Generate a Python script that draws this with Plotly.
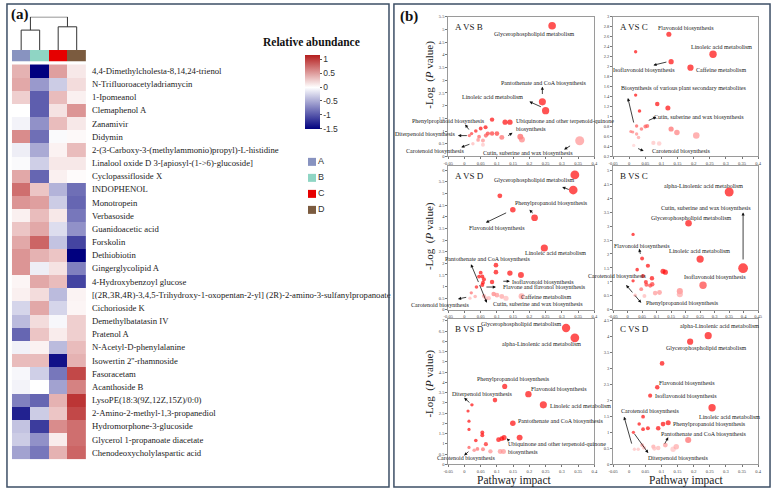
import plotly.graph_objects as go

W, H = 777, 493
SERIF = "Liberation Serif"
SANS = "Liberation Sans"

# ---------------- Panel (a) data ----------------
metabolites = [
    "4,4-Dimethylcholesta-8,14,24-trienol", "N-Trifluoroacetyladriamycin", "1-Ipomeanol",
    "Clemaphenol A", "Zanamivir", "Didymin",
    "2-(3-Carboxy-3-(methylammonio)propyl)-L-histidine",
    "Linalool oxide D 3-[apiosyl-(1->6)-glucoside]", "Cyclopassifloside X", "INDOPHENOL",
    "Monotropein", "Verbasoside", "Guanidoacetic acid", "Forskolin", "Dethiobiotin",
    "Gingerglycolipid A", "4-Hydroxybenzoyl glucose",
    "[(2R,3R,4R)-3,4,5-Trihydroxy-1-oxopentan-2-yl] (2R)-2-amino-3-sulfanylpropanoate",
    "Cichorioside K", "Demethylbatatasin IV", "Pratenol A", "N-Acetyl-D-phenylalanine",
    "Isowertin 2''-rhamnoside", "Fasoracetam", "Acanthoside B", "LysoPE(18:3(9Z,12Z,15Z)/0:0)",
    "2-Amino-2-methyl-1,3-propanediol", "Hydromorphone-3-glucoside",
    "Glycerol 1-propanoate diacetate", "Chenodeoxycholylaspartic acid",
]
grp_A = [0.4, 0.45, 0.25, 0.0, -0.07, 0.6, -0.1, -0.03, 0.45, 0.75, 0.55, 0.08, 0.3, 0.45, 0.55,
         0.55, 0.05, 0.08, -0.25, -0.4, -0.9, -0.08, 0.35, -0.05, -0.07, -0.75, -1.3, -0.35, -0.3, -0.55]
grp_B = [-1.5, -0.6, -0.95, -0.95, -0.65, -0.85, -0.5, -0.28, -0.9, 0.3, 0.5, 0.35, 0.45, 0.8, 0.4,
         -0.1, 0.45, 0.18, 0.45, 0.18, 0.3, 0.07, 0.35, -0.28, 0.0, -0.9, -0.3, -1.15, -0.65, -0.8]
grp_C = [0.5, -0.3, 0.35, 0.15, 0.35, -0.03, 0.07, 0.12, 0.08, -0.45, -0.3, 0.12, -0.2, -0.35, 0.3,
         0.15, 0.35, -0.4, -0.25, -0.05, 0.1, -0.4, -1.4, -0.8, -0.55, 0.4, 0.3, 0.6, 0.1, 0.4]
grp_D = [0.12, 0.18, 0.08, 0.55, 0.12, 0.03, 0.35, 0.12, 0.02, -0.85, -0.9, -0.8, -0.65, -1.1, -1.5,
         -0.75, -1.1, 0.06, 0.05, 0.25, 0.25, 0.35, 0.4, 0.95, 0.65, 1.05, 0.95, 0.75, 0.75, 0.8]
groups = ["A", "B", "C", "D"]
group_colors = ["#8893c0", "#8fd5c4", "#e60000", "#7b5b3f"]
# dendrogram merges: (left, right, height)
dendro_merges = [("A", "B", 0.6), ("C", "D", 0.7), ("AB", "CD", 1.0)]
cbar_ticks = [1, 0.5, 0, -0.5, -1, -1.5]

# ---------------- Panel (b) data ----------------
AB_x = [0.27, 0.24, 0.25, 0.085, 0.125, 0.14, 0.065, 0.05, 0.035, 0.022, 0.015, 0.045, 0.072, 0.085,
        0.1, 0.066, 0.115, 0.172, 0.177, 0.057, 0.042, 0.026, 0.057, 0.355]
AB_y = [5.15, 2.15, 1.8, 1.45, 1.35, 1.35, 1.15, 1.1, 1.0, 0.9, 0.82, 0.78, 0.9, 0.9,
        0.9, 0.82, 0.75, 0.78, 0.67, 0.63, 0.65, 0.5, 0.46, 0.62]
AC_x = [0.123, 0.26, 0.02, 0.13, 0.19, 0.02, 0.087, 0.12, 0.032, 0.023, 0.005, 0.011, 0.023, 0.029,
        0.038, 0.05, 0.056, 0.13, 0.148, 0.208, 0.075, 0.093, 0.014]
AC_y = [2.65, 2.25, 2.3, 2.1, 1.98, 1.43, 1.25, 1.17, 1.11, 0.81, 0.7, 0.69, 0.65, 0.58,
        0.75, 0.8, 0.81, 0.75, 0.68, 0.62, 0.47, 0.46, 0.42]
AD_x = [0.34, 0.335, 0.109, 0.149, 0.216, 0.246, 0.097, 0.097, 0.14, 0.174, 0.05, 0.055, 0.06, 0.045,
        0.057, 0.085, 0.055, 0.037, 0.021, 0.033, 0.06, 0.09, 0.1, 0.066, 0.075, 0.115, 0.128, 0.176, 0.017]
AD_y = [5.8, 5.15, 4.9, 4.3, 3.96, 2.66, 1.92, 1.62, 1.58, 1.5, 1.6, 1.43, 1.31, 1.43,
        1.17, 1.2, 1.07, 0.98, 0.73, 0.57, 0.6, 0.68, 0.63, 0.5, 0.5, 0.57, 0.5, 0.58, 0.5]
BC_x = [0.35, 0.398, 0.21, 0.019, 0.05, 0.25, 0.07, 0.033, 0.122, 0.13, 0.053, 0.084, 0.019, 0.063,
        0.085, 0.065, 0.078, 0.047, 0.26, 0.095, 0.11, 0.18, 0.18, 0.026, 0.058]
BC_y = [4.22, 1.49, 3.1, 2.7, 1.84, 1.82, 1.58, 1.44, 1.38, 1.35, 1.21, 1.13, 1.04, 1.0,
        0.92, 0.9, 0.87, 0.74, 0.88, 0.6, 0.62, 0.67, 0.56, 0.52, 0.5]
BD_x = [0.313, 0.34, 0.124, 0.094, 0.197, 0.243, 0.023, 0.011, 0.014, 0.014, 0.149, 0.055, 0.055,
        0.035, 0.066, 0.105, 0.115, 0.122, 0.17, 0.014, 0.03, 0.04, 0.057, 0.08, 0.11, 0.12]
BD_y = [6.65, 6.17, 3.8, 3.13, 3.42, 2.9, 2.9, 2.6, 2.1, 1.7, 2.0, 1.55, 1.42,
        1.16, 0.98, 1.2, 1.25, 1.3, 1.3, 0.82, 0.68, 0.75, 0.73, 0.63, 0.62, 0.62]
CD_x = [0.245, 0.189, 0.102, 0.087, 0.065, 0.257, 0.043, 0.031, 0.013, 0.043, 0.058, 0.09, 0.105,
        0.121, 0.183, 0.04, 0.046, 0.075, 0.078, 0.09, 0.112, 0.136, 0.146, 0.016, 0.028]
CD_y = [4.03, 3.84, 3.16, 2.41, 2.15, 1.77, 1.49, 1.26, 1.0, 1.1, 1.13, 1.13, 1.26,
        1.3, 0.76, 0.6, 0.52, 0.55, 0.49, 0.51, 0.6, 0.47, 0.55, 0.47, 0.47]

AB_labels = [("Glycerophospholipid metabolism", 0.213, 4.83, "center"),
             ("Pantothenate and CoA biosynthesis", 0.243, 2.9, "center"),
             ("Linoleic acid metabolism", 0.087, 2.36, "center"),
             ("Phenylpropanoid biosynthesis", -0.05, 1.41, "center"),
             ("Diterpenoid biosynthesis", -0.12, 0.9, "center"),
             ("Carotenoid biosynthesis", -0.09, 0.2, "center"),
             ("Ubiquinone and other terpenoid-quinone<br>biosynthesis", 0.152, 1.22, "left"),
             ("Cutin, suberine and wax biosynthesis", 0.195, 0.12, "center")]
AB_arrows = [(0.24, 2.75, 0.24, 2.4), (0.2, 2.16, 0.24, 1.93), (0.002, 1.26, 0.017, 1.0),
             (-0.02, 0.82, 0.012, 0.82), (-0.01, 0.36, 0.02, 0.5), (0.148, 0.93, 0.13, 0.78),
             (0.307, 0.27, 0.33, 0.45)]
AC_labels = [("Flavonoid biosynthesis", 0.175, 2.77, "center"),
             ("Linoleic acid metabolism", 0.287, 2.4, "center"),
             ("Isoflavonoid biosynthesis", 0.047, 1.93, "center"),
             ("Caffeine metabolism", 0.284, 1.93, "center"),
             ("Biosynthesis of various plant secondary metabolites", 0.169, 1.57, "center"),
             ("Cutin, suberine and wax biosynthesis", 0.215, 1.0, "center"),
             ("Carotenoid biosynthesis", 0.16, 0.3, "center")]
AC_arrows = [(0.075, 2.03, 0.12, 2.1), (-0.004, 1.37, 0.015, 0.85), (0.084, 0.99, 0.056, 0.91),
             (0.045, 0.31, 0.023, 0.37)]
AD_labels = [("Glycerophospholipid metabolism", 0.213, 5.57, "center"),
             ("Phenylpropanoid biosynthesis", 0.268, 4.6, "center"),
             ("Flavonoid biosynthesis", 0.099, 3.51, "center"),
             ("Linoleic acid metabolism", 0.28, 2.43, "center"),
             ("Pantothenate and CoA biosynthesis", 0.072, 2.17, "center"),
             ("Isoflavonoid biosynthesis", 0.243, 1.19, "center"),
             ("Flavone and flavonol biosynthesis", 0.246, 0.98, "center"),
             ("Caffeine metabolism", 0.252, 0.55, "center"),
             ("Cutin, suberine and wax biosynthesis", 0.227, 0.26, "center"),
             ("Carotenoid biosynthesis", -0.074, 0.21, "center")]
AD_arrows = [(0.301, 5.28, 0.326, 5.15), (0.2, 4.3, 0.215, 4.1), (0.066, 3.75, 0.133, 4.2),
             (0.02, 1.96, 0.045, 1.13), (0.069, 0.3, 0.045, 1.13), (0.14, 1.23, 0.115, 1.23),
             (0.097, 0.98, 0.063, 0.98), (-0.02, 0.47, 0.01, 0.55)]
BC_labels = [("alpha-Linolenic acid metabolism", 0.26, 4.43, "center"),
             ("Cutin, suberine and wax biosynthesis", 0.27, 3.66, "center"),
             ("Glycerophospholipid metabolism", 0.219, 3.28, "center"),
             ("Flavonoid biosynthesis", 0.05, 2.3, "center"),
             ("Linoleic acid metabolism", 0.247, 2.09, "center"),
             ("Isoflavonoid biosynthesis", 0.3, 1.17, "center"),
             ("Carotenoid biosynthesis", -0.036, 1.21, "center"),
             ("Phenylpropanoid biosynthesis", 0.188, 0.25, "center")]
BC_arrows = [(0.398, 3.49, 0.398, 1.75), (0.04, 2.19, 0.045, 1.95), (-0.005, 0.89, 0.021, 0.57),
             (0.047, 0.25, 0.021, 0.57)]
BD_labels = [("Glycerophospholipid metabolism", 0.173, 6.85, "center"),
             ("alpha-Linolenic acid metabolism", 0.237, 5.85, "center"),
             ("Phenylpropanoid biosynthesis", 0.15, 4.15, "center"),
             ("Flavonoid biosynthesis", 0.29, 3.67, "center"),
             ("Diterpenoid biosynthesis", 0.053, 3.43, "center"),
             ("Linoleic acid metabolism", 0.258, 2.85, "left"),
             ("Pantothenate and CoA biosynthesis", 0.158, 2.12, "left"),
             ("Ubiquinone and other terpenoid-quinone<br>biosynthesis", 0.127, 0.8, "left"),
             ("Carotenoid biosynthesis", 0.006, 0.29, "center")]
BD_arrows = [(-0.001, 3.24, 0.02, 2.95), (0.13, 1.26, 0.14, 1.11), (-0.001, 0.43, 0.017, 0.68)]
CD_labels = [("alpha-Linolenic acid metabolism", 0.28, 4.34, "center"),
             ("Glycerophospholipid metabolism", 0.239, 3.63, "center"),
             ("Flavonoid biosynthesis", 0.18, 2.56, "center"),
             ("Isoflavonoid biosynthesis", 0.175, 2.15, "center"),
             ("Linoleic acid metabolism", 0.31, 1.49, "center"),
             ("Phenylpropanoid biosynthesis", 0.248, 1.27, "center"),
             ("Pantothenate and CoA biosynthesis", 0.23, 0.95, "center"),
             ("Carotenoid biosynthesis", 0.065, 1.68, "center"),
             ("Diterpenoid biosynthesis", 0.152, 0.19, "center")]
CD_arrows = [(0.121, 0.85, 0.108, 0.6), (-0.016, 1.49, 0.009, 0.6), (0.059, 0.35, 0.013, 1.0)]


def pxx(p):
    return p / W


def pxy(p):
    return 1 - p / H


fig = go.Figure()

# ---------- heatmap ----------
z = [[a, b, c, d] for a, b, c, d in zip(grp_A, grp_B, grp_C, grp_D)]
zmin, zmax = -1.5, 1.17
zero = (0 - zmin) / (zmax - zmin)
fig.add_trace(go.Heatmap(
    z=z, x=list(range(4)), y=list(range(len(metabolites))),
    zmin=zmin, zmax=zmax,
    colorscale=[[0, "#00007f"], [zero, "#ffffff"], [1, "#b41e1e"]],
    xaxis="x", yaxis="y", hoverinfo="skip",
    colorbar=dict(x=pxx(304), xanchor="left", y=pxy(90.5), yanchor="middle", xpad=0, ypad=0,
                  len=75 / H, lenmode="fraction", thickness=15, outlinewidth=0,
                  tickvals=cbar_ticks, ticktext=[f"{v:g}" for v in cbar_ticks],
                  ticks="outside", ticklen=2, tickcolor="#555",
                  tickfont=dict(family=SANS, size=8.5, color="#333")),
))
fig.add_trace(go.Heatmap(
    z=[list(range(4))], x=list(range(4)), y=[0], zmin=0, zmax=3,
    colorscale=[[0, group_colors[0]], [0.17, group_colors[0]], [0.17, group_colors[1]],
                [0.5, group_colors[1]], [0.5, group_colors[2]], [0.83, group_colors[2]],
                [0.83, group_colors[3]], [1, group_colors[3]]],
    showscale=False, xaxis="x2", yaxis="y2", hoverinfo="skip"))

# dendrogram from merges
pos = {g: (i, 0.0) for i, g in enumerate(groups)}
dx, dy = [], []
for l, r, h in dendro_merges:
    xl, hl = pos[l]
    xr, hr = pos[r]
    dx += [xl, xl, xr, xr, None]
    dy += [hl, h, h, hr, None]
    pos[l + r] = ((xl + xr) / 2, h)
fig.add_trace(go.Scatter(x=dx, y=dy, mode="lines", line=dict(color="#333", width=1),
                         xaxis="x3", yaxis="y3", showlegend=False, hoverinfo="skip",
                         cliponaxis=False))

# group key (legend) as a small marker+text trace
fig.add_trace(go.Scatter(
    x=[0] * len(groups), y=list(range(len(groups))), mode="markers+text", text=groups,
    textposition="middle right", textfont=dict(family=SANS, size=9, color="#333"),
    marker=dict(symbol="square", size=8, color=group_colors), xaxis="x10", yaxis="y10",
    showlegend=False, hoverinfo="skip", cliponaxis=False))

hm_x = [pxx(7), pxx(82)]
fig.update_layout(
    xaxis=dict(domain=hm_x, range=[-0.5, 3.5], visible=False),
    yaxis=dict(domain=[pxy(462), pxy(63)], range=[len(metabolites) - 0.5, -0.5],
               tickvals=list(range(len(metabolites))), ticktext=metabolites, side="right",
               ticks="", showline=False, showgrid=False, zeroline=False, anchor="x",
               ticklabelstandoff=5, tickfont=dict(family=SERIF, size=8.7, color="#222")),
    xaxis2=dict(domain=hm_x, range=[-0.5, 3.5], visible=False, anchor="y2"),
    yaxis2=dict(domain=[pxy(60), pxy(48)], range=[-0.5, 0.5], visible=False, anchor="x2"),
    xaxis3=dict(domain=hm_x, range=[-0.5, 3.5], visible=False, anchor="y3"),
    yaxis3=dict(domain=[pxy(48.5), pxy(15)], range=[0, 1.0], visible=False, anchor="x3"),
    xaxis10=dict(domain=[pxx(311), pxx(340)], range=[0, 1], visible=False, anchor="y10"),
    yaxis10=dict(domain=[pxy(210), pxy(161.5)], range=[3, 0], visible=False, anchor="x10"),
)

# ---------- scatter panels ----------
col1 = (449, 597)
col2 = (616, 763)
row1 = (15, 156)
row2 = (166, 311)
row3 = (320, 467)
panels = [
    ("A VS B", AB_x, AB_y, AB_labels, AB_arrows, col1, row1, [-0.05, 0.4], [0, 5.5], 0.5, 0.0),
    ("A VS C", AC_x, AC_y, AC_labels, AC_arrows, col2, row1, [-0.05, 0.4], [0.2, 3.0], 0.2, 0.2),
    ("A VS D", AD_x, AD_y, AD_labels, AD_arrows, col1, row2, [-0.05, 0.4], [0, 6.17], 0.5, 0.0),
    ("B VS C", BC_x, BC_y, BC_labels, BC_arrows, col2, row2, [-0.05, 0.45], [0, 5.14], 0.5, 0.0),
    ("B VS D", BD_x, BD_y, BD_labels, BD_arrows, col1, row3, [-0.05, 0.4], [0, 7.1], 0.5, 0.0),
    ("C VS D", CD_x, CD_y, CD_labels, CD_arrows, col2, row3, [-0.05, 0.4], [0, 4.56], 0.5, 0.0),
]

annotations = []
axis_font = dict(family=SERIF, size=4.5, color="#444")
for i, (title, xs, ys, labels, arrows, cx, ry, xr, yr, ydt, y0) in enumerate(panels):
    n = i + 4
    xa, ya = f"x{n}", f"y{n}"
    fig.add_trace(go.Scatter(
        x=xs, y=ys, mode="markers", xaxis=xa, yaxis=ya, showlegend=False,
        marker=dict(size=[3 + 17 * v for v in xs], color=ys, cmin=0.4, cmax=1.05,
                    colorscale=[[0, "#ffd6d6"], [1, "#ff0a0a"]], line=dict(width=0)),
        hoverinfo="skip"))
    xt = [round(-0.05 + 0.05 * k, 2) for k in range(int(round((xr[1] + 0.05) / 0.05)) + 1)]
    nyt = int(round((yr[1] - y0) / ydt + 1e-6)) + 1
    yt = [round(y0 + ydt * k, 2) for k in range(nyt) if y0 + ydt * k <= yr[1] + 1e-9]
    fig.layout[f"xaxis{n}"] = dict(
        domain=[pxx(cx[0]), pxx(cx[1])], range=xr, anchor=ya, tickvals=xt,
        ticktext=[f"{v:g}" for v in xt], showline=True, mirror=True, linecolor="#9a9a9a",
        linewidth=0.8, ticks="outside", ticklen=2, tickwidth=0.5, tickcolor="#777",
        tickfont=axis_font, showgrid=False, zeroline=False)
    fig.layout[f"yaxis{n}"] = dict(
        domain=[pxy(ry[1]), pxy(ry[0])], range=yr, anchor=xa, tickvals=yt,
        ticktext=[f"{v:g}" for v in yt], showline=True, mirror=True, linecolor="#9a9a9a",
        linewidth=0.8, ticks="outside", ticklen=2, tickwidth=0.5, tickcolor="#777",
        tickfont=axis_font, showgrid=False, zeroline=False)

    def to_paper(x, y, cx=cx, ry=ry, xr=xr, yr=yr):
        px = cx[0] + (x - xr[0]) / (xr[1] - xr[0]) * (cx[1] - cx[0])
        py = ry[1] - (y - yr[0]) / (yr[1] - yr[0]) * (ry[1] - ry[0])
        return pxx(px), pxy(py)

    for text, lx, ly, anchor in labels:
        px_, py_ = to_paper(lx, ly)
        annotations.append(dict(text=text, x=px_, y=py_, xref="paper", yref="paper",
                                xanchor=anchor, yanchor="middle", align="left",
                                showarrow=False,
                                font=dict(family=SERIF, size=6, color="#1a1a1a")))
    for hx, hy, tx, ty in arrows:
        annotations.append(dict(text="", x=hx, y=hy, ax=tx, ay=ty, xref=xa, yref=ya,
                                axref=xa, ayref=ya, showarrow=True, arrowhead=2,
                                arrowsize=0.8, arrowwidth=0.8, arrowcolor="#111"))
    annotations.append(dict(text=title, x=pxx(cx[0] + 5), y=pxy(ry[0] + 10), xref="paper",
                            yref="paper", xanchor="left", yanchor="middle", showarrow=False,
                            font=dict(family=SERIF, size=9, color="#222")))

# axis titles
for yc in (73, 236, 385):
    annotations.append(dict(text="-Log  (<i>P</i> value)", x=pxx(430), y=pxy(yc),
                            xref="paper", yref="paper", textangle=-90, showarrow=False,
                            xanchor="center", yanchor="middle",
                            font=dict(family=SERIF, size=11, color="#222")))
for xc in (516, 690):
    annotations.append(dict(text="Pathway impact", x=pxx(xc), y=pxy(483), xref="paper",
                            yref="paper", showarrow=False, xanchor="center", yanchor="middle",
                            font=dict(family=SERIF, size=11.5, color="#222")))

annotations += [
    dict(text="<b>(a)</b>", x=pxx(4), y=pxy(13), xref="paper", yref="paper", showarrow=False,
         xanchor="left", yanchor="middle", font=dict(family=SERIF, size=15, color="#111")),
    dict(text="<b>(b)</b>", x=pxx(398), y=pxy(15), xref="paper", yref="paper",
         showarrow=False, xanchor="left", yanchor="middle",
         font=dict(family=SERIF, size=15, color="#111")),
    dict(text="<b>Relative abundance</b>", x=pxx(310), y=pxy(40), xref="paper",
         yref="paper", showarrow=False, xanchor="center", yanchor="middle",
         font=dict(family=SERIF, size=11.5, color="#111")),
]

shapes = [
    dict(type="rect", xref="paper", yref="paper", x0=pxx(2), x1=pxx(389), y0=pxy(490),
         y1=pxy(2), line=dict(color="#3d4f66", width=1.5)),
    dict(type="rect", xref="paper", yref="paper", x0=pxx(394), x1=pxx(775), y0=pxy(490),
         y1=pxy(2), line=dict(color="#3d4f66", width=1.5)),
]

fig.update_layout(
    width=W, height=H, margin=dict(l=0, r=0, t=0, b=0),
    paper_bgcolor="white", plot_bgcolor="white",
    annotations=annotations, shapes=shapes, showlegend=False,
)

fig.write_html("out.html", config={"displayModeBar": False},
               post_script="document.body.style.margin='0px';document.body.style.overflow='hidden';")
